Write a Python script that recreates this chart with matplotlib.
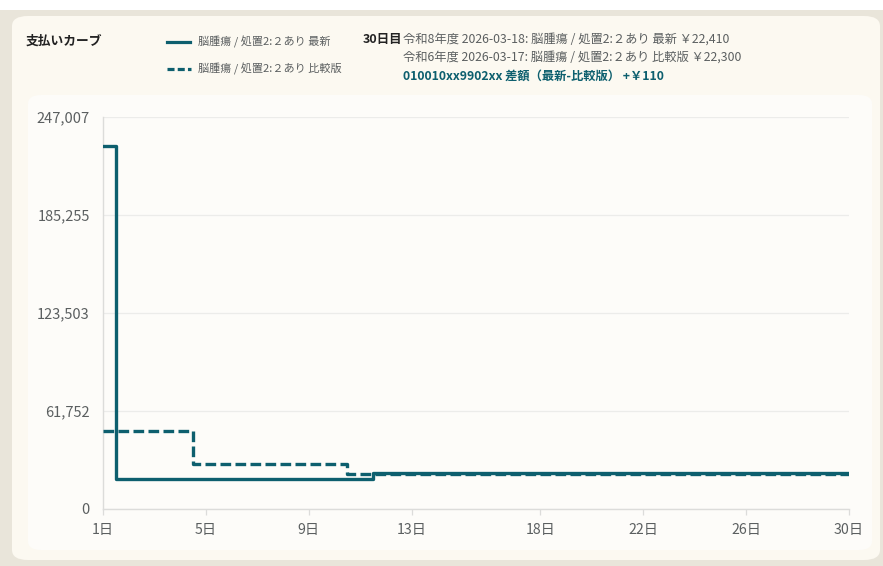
import matplotlib
matplotlib.use("Agg")
import matplotlib.pyplot as plt
from matplotlib.patches import FancyBboxPatch, Rectangle
from matplotlib.lines import Line2D
from matplotlib.ticker import FixedLocator, FuncFormatter

plt.rcParams['font.family'] = ['Noto Sans CJK JP', 'DejaVu Sans']

# ---- data ----
days = list(range(1, 31))
latest = [228710] + [18800] * 10 + [22410] * 19
compare = [49400] * 4 + [28300] * 6 + [22300] * 20
y_max = 247007
y_ticks = [0, 61752, 123503, 185255, 247007]
x_ticks = [1, 5, 9, 13, 18, 22, 26, 30]
title = "支払いカーブ"
legend_latest = "脳腫瘍 / 処置2:２あり 最新"
legend_compare = "脳腫瘍 / 処置2:２あり 比較版"
info_day = "30日目"
info_line1 = "令和8年度 2026-03-18: 脳腫瘍 / 処置2:２あり 最新 ￥22,410"
info_line2 = "令和6年度 2026-03-17: 脳腫瘍 / 処置2:２あり 比較版 ￥22,300"
info_line3 = "010010xx9902xx 差額（最新-比較版） +￥110"

W, H = 883, 566
TEAL = "#0d5f6e"
GRAY = "#5b5f60"

fig = plt.figure(figsize=(W / 100, H / 100), dpi=100)
fig.patch.set_facecolor("white")


def fx(x):
    return x / W


def fy(y):
    return 1 - y / H


# backgrounds
fig.patches.append(Rectangle((0, 0), 1, fy(10), transform=fig.transFigure,
                             facecolor="#e9e5da", edgecolor="none", zorder=-3))
fig.patches.append(FancyBboxPatch((fx(12), fy(560)), fx(868), (560 - 16) / H,
                                  boxstyle="round,pad=0,rounding_size=0.018",
                                  transform=fig.transFigure, facecolor="#fcf9f1",
                                  edgecolor="none", zorder=-2))
fig.patches.append(FancyBboxPatch((fx(28), fy(550)), fx(844), (550 - 95) / H,
                                  boxstyle="round,pad=0,rounding_size=0.015",
                                  transform=fig.transFigure, facecolor="#fdfcf9",
                                  edgecolor="none", zorder=-1))

ax = fig.add_axes([fx(103), fy(509), fx(849 - 103), (509 - 117) / H])
ax.set_zorder(2)
ax.set_facecolor("none")
ax.plot(days, compare, drawstyle="steps-mid", color=TEAL, lw=2.4,
        dashes=(3.2, 1.3), zorder=3)
ax.plot(days, latest, drawstyle="steps-mid", color=TEAL, lw=2.4, zorder=4)

ax.set_xlim(1, 30)
ax.set_ylim(0, y_max)
ax.yaxis.set_major_locator(FixedLocator(y_ticks))
ax.yaxis.set_major_formatter(FuncFormatter(lambda v, p: f"{int(round(v)):,}"))
ax.xaxis.set_major_locator(FixedLocator(x_ticks))
ax.xaxis.set_major_formatter(FuncFormatter(lambda v, p: f"{int(round(v))}日"))
ax.grid(axis="y", color="#ececea", lw=0.9)
ax.set_axisbelow(True)
for s in ["top", "right"]:
    ax.spines[s].set_visible(False)
for s in ["left", "bottom"]:
    ax.spines[s].set_color("#dcdcda")
    ax.spines[s].set_linewidth(1.0)
ax.tick_params(axis="y", length=0, pad=9.5, labelsize=10.5, labelcolor=GRAY)
ax.tick_params(axis="x", length=4, width=0.9, color="#dcdcda", pad=6,
               labelsize=10.2, labelcolor=GRAY)

# header texts
fig.text(fx(26), fy(41), title, fontsize=9.2, fontweight="bold", color="#222222",
         va="center", ha="left")
fig.lines.append(Line2D([fx(167), fx(190)], [fy(42), fy(42)], transform=fig.transFigure,
                        color=TEAL, lw=2.3))
fig.lines.append(Line2D([fx(167), fx(191)], [fy(69), fy(69)], transform=fig.transFigure,
                        color=TEAL, lw=2.3, dashes=(2.2, 1.0)))
fig.text(fx(198), fy(42), legend_latest, fontsize=8.0, color=GRAY, va="center", ha="left")
fig.text(fx(198), fy(69), legend_compare, fontsize=8.0, color=GRAY, va="center", ha="left")

fig.text(fx(363), fy(39), info_day, fontsize=9.0, fontweight="bold", color="#222222",
         va="center", ha="left")
fig.text(fx(403), fy(39), info_line1, fontsize=8.85, color=GRAY, va="center", ha="left")
fig.text(fx(403), fy(57), info_line2, fontsize=8.85, color=GRAY, va="center", ha="left")
fig.text(fx(403), fy(76), info_line3, fontsize=8.85, fontweight="bold", color=TEAL,
         va="center", ha="left")

fig.savefig("out.png", dpi=100)
